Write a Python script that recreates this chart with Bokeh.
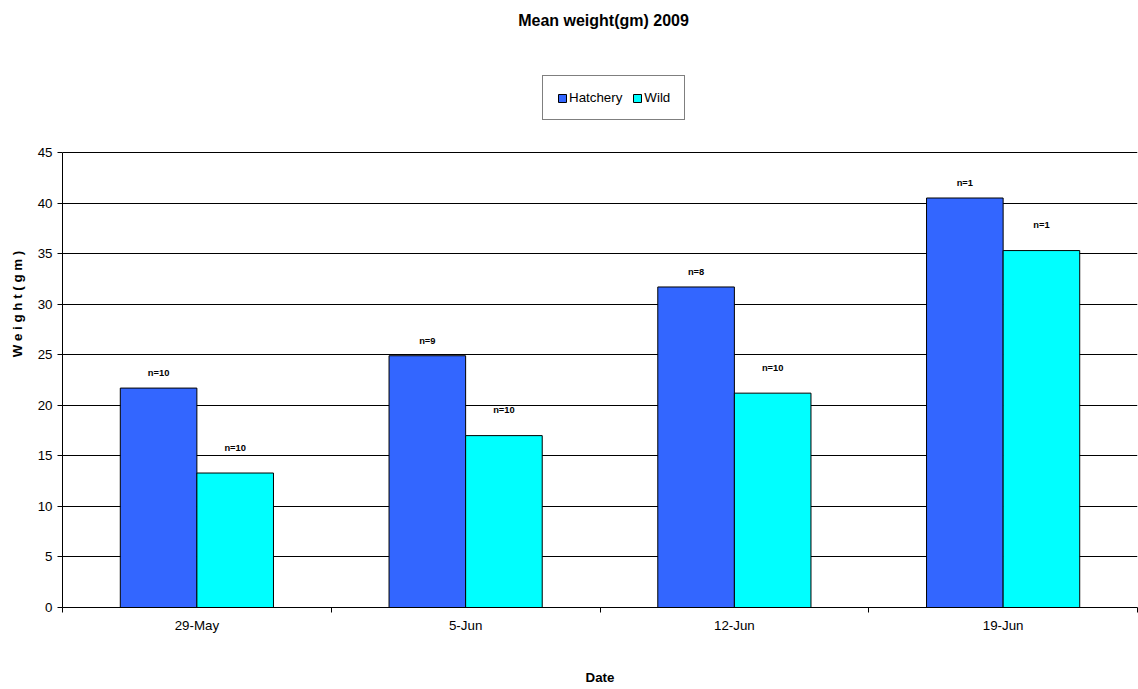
from bokeh.plotting import figure
from bokeh.models import ColumnDataSource, FixedTicker, Legend, LegendItem, Label, Range1d
from bokeh.embed import file_html
from bokeh.resources import INLINE

dates = ["29-May", "5-Jun", "12-Jun", "19-Jun"]
hatchery = [21.7, 24.9, 31.7, 40.5]
wild = [13.3, 17.0, 21.2, 35.3]
hatchery_n = ["n=10", "n=9", "n=8", "n=1"]
wild_n = ["n=10", "n=10", "n=10", "n=1"]

bw = 0.285
centers = [i + 0.5 for i in range(len(dates))]
src_h = ColumnDataSource(dict(x=[c - bw / 2 for c in centers], top=hatchery, lab=hatchery_n,
                              ly=[v + 1.0 for v in hatchery]))
src_w = ColumnDataSource(dict(x=[c + bw / 2 for c in centers], top=wild, lab=wild_n,
                              ly=[v + 2.0 for v in wild]))

# the frame reaches the top of the page so that title and legend can sit in it
p = figure(width=1138, height=689, output_backend="svg", toolbar_location=None,
           x_range=Range1d(0, 4), y_range=Range1d(0, 45 * 607 / 455),
           min_border_left=62, min_border_top=0, min_border_bottom=82, min_border_right=1)
p.outline_line_color = None
p.xgrid.visible = False
p.ygrid.grid_line_color = "black"
p.ygrid.grid_line_width = 1

rh = p.vbar(x="x", top="top", width=bw, source=src_h, fill_color="#3366FF", line_color="black")
rw = p.vbar(x="x", top="top", width=bw, source=src_w, fill_color="#00FFFF", line_color="black")
p.text(x="x", y="ly", text="lab", source=src_h, text_font_size="7pt", text_font_style="bold",
       text_align="center", text_baseline="bottom")
p.text(x="x", y="ly", text="lab", source=src_w, text_font_size="7pt", text_font_style="bold",
       text_align="center", text_baseline="bottom")

p.xaxis.ticker = FixedTicker(ticks=centers, minor_ticks=[0, 1, 2, 3, 4])
p.xaxis.major_label_overrides = {c: d for c, d in zip(centers, dates)}
p.xaxis.major_tick_out = 0
p.xaxis.major_tick_in = 0
p.xaxis.minor_tick_out = 5
p.xaxis.minor_tick_in = 0
p.xaxis.axis_label = "Date"
p.xaxis.axis_label_standoff = 34
p.yaxis.ticker = FixedTicker(ticks=list(range(0, 46, 5)))
p.yaxis.bounds = (0, 45)
p.yaxis.minor_tick_line_color = None
p.yaxis.major_tick_in = 0
p.yaxis.major_tick_out = 5
p.yaxis.axis_label = "W e i g h t ( g m )"
p.yaxis.axis_label_standoff = 10
for ax in (p.xaxis[0], p.yaxis[0]):
    ax.axis_line_color = "black"
    ax.major_label_text_font = "Liberation Sans"
    ax.major_label_text_font_size = "10pt"
    ax.major_label_text_color = "black"
    ax.axis_label_text_font = "Liberation Sans"
    ax.axis_label_text_font_size = "10pt"
    ax.axis_label_text_font_style = "bold"
    ax.axis_label_text_color = "black"

p.add_layout(Label(x=541, y=587, x_units="screen", y_units="screen", text="Mean weight(gm) 2009",
                   text_font="Liberation Sans", text_font_size="12pt", text_font_style="bold",
                   text_color="black", text_align="center", text_baseline="middle"))

legend = Legend(items=[LegendItem(label="Hatchery", renderers=[rh]),
                       LegendItem(label="Wild", renderers=[rw])],
                orientation="horizontal", location=(480, 487),
                border_line_color="black", label_text_font="Liberation Sans",
                label_text_font_size="10pt", label_text_color="black",
                glyph_width=10, glyph_height=10,
                spacing=10, padding=14, margin=0, label_standoff=2)
p.add_layout(legend, "center")

open("out.html", "w").write(file_html(p, INLINE))
